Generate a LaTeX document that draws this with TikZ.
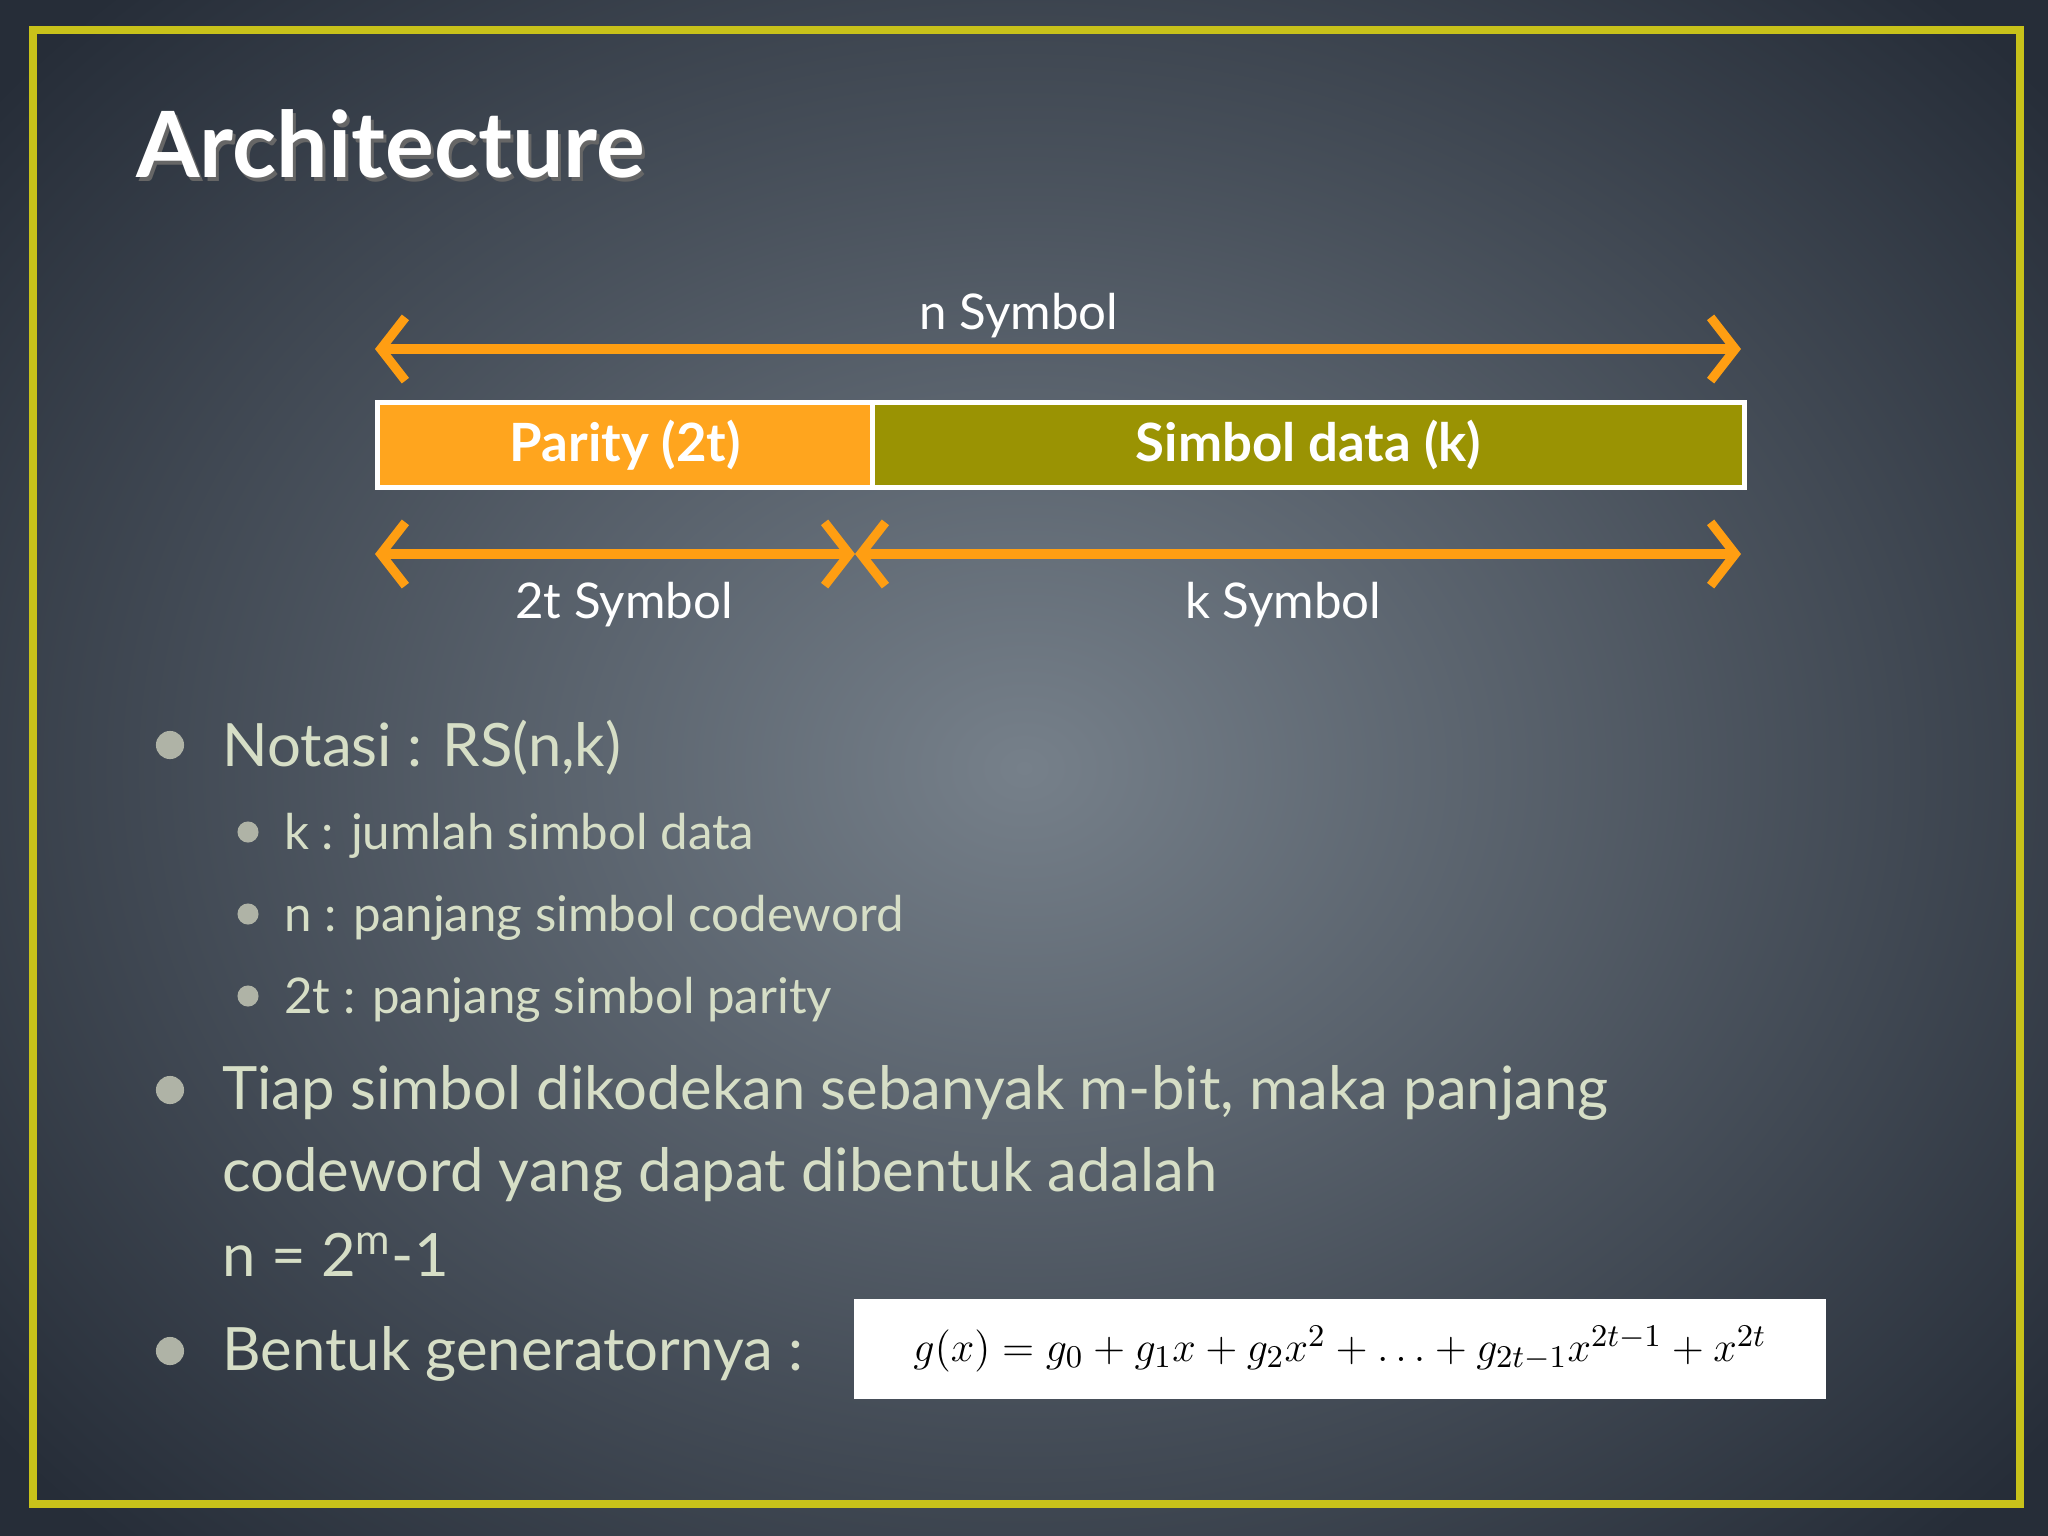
\documentclass[tikz,border=0pt]{standalone}
\usepackage{fontspec}
\setmainfont{Lato}
\usetikzlibrary{arrows.meta,shadings}
\definecolor{txt}{HTML}{D6DEC6}
\definecolor{org}{HTML}{FF9E12}
\definecolor{par}{HTML}{FFA51E}
\definecolor{sim}{HTML}{9A9303}
\definecolor{frame}{HTML}{C8C21A}
\tikzset{
  dim/.style={draw=org,line width=2.6pt,{Straight Barb[length=7pt,width=18pt,line width=2.6pt]}-{Straight Barb[length=7pt,width=18pt,line width=2.6pt]}},
  lbl/.style={text=white,font=\fontsize{14}{17}\selectfont},
  b1/.style={text=txt,anchor=west,font=\fontsize{17}{20}\selectfont},
  b2/.style={text=txt,anchor=west,font=\fontsize{14}{17}\selectfont},
  dot/.style={circle,fill=txt!55!gray,inner sep=0pt,minimum size=#1}
}
\begin{document}
\begin{tikzpicture}[x=0.01cm,y=-0.01cm]
\useasboundingbox (0,0) rectangle (2048,1536);
\shade[inner color={rgb,255:red,118;green,128;blue,138},outer color={rgb,255:red,38;green,45;blue,56}] (-300,-300) rectangle (2348,1836);
\draw[frame,line width=2.2pt] (33,30) rectangle (2020,1504);
\node[text=black!60,anchor=west,font=\fontsize{26}{30}\selectfont\bfseries] at (127,148) {Architecture};
\node[text=white,anchor=west,font=\fontsize{26}{30}\selectfont\bfseries] (title) at (124,144) {Architecture};
\coordinate (nL) at (375,349); \coordinate (nR) at (1741,349);
\draw[dim] (nL) -- (nR);
\node[lbl] (nlab) at (1019,316) {n Symbol};
\node[draw=white,line width=1.5pt,fill=par,inner sep=0pt,anchor=north west,minimum width=4.95cm,minimum height=0.85cm,text=white,font=\fontsize{15}{18}\selectfont\bfseries] (parity) at (375,400) {Parity (2t)};
\node[draw=white,line width=1.5pt,fill=sim,inner sep=0pt,anchor=north west,minimum width=8.71cm,minimum height=0.85cm,text=white,font=\fontsize{15}{18}\selectfont\bfseries] (data) at (870,400) {Simbol data (k)};
\coordinate (tL) at (375,554); \coordinate (tM) at (855,554); \coordinate (kR) at (1741,554);
\draw[dim] (tL) -- (tM);
\draw[dim] (tM) -- (kR);
\node[lbl] (tlab) at (624,605) {2t Symbol};
\node[lbl] (klab) at (1283,605) {k Symbol};
\node[dot=8pt] (d1) at (170,745) {};
\node[b1] (t1) at (210,748) {Notasi : RS(n,k)};
\node[dot=6pt] (d2) at (248,832) {};
\node[b2] (t2) at (272,836) {k : jumlah simbol data};
\node[dot=6pt] (d3) at (248,914) {};
\node[b2] (t3) at (272,918) {n : panjang simbol codeword};
\node[dot=6pt] (d4) at (248,996) {};
\node[b2] (t4) at (272,1000) {2t : panjang simbol parity};
\node[dot=8pt] (d5) at (170,1090) {};
\node[b1] (t5) at (210,1093) {Tiap simbol dikodekan sebanyak m-bit, maka panjang};
\node[b1] (t6) at (210,1175) {codeword yang dapat dibentuk adalah};
\node[b1] (t7) at (210,1255) {n = 2\textsuperscript{m}-1};
\node[dot=8pt] (d6) at (170,1351) {};
\node[b1] (t8) at (210,1354) {Bentuk generatornya :};
\node[fill=white,inner sep=0pt,anchor=north west,minimum width=9.72cm,minimum height=1.0cm,font=\fontsize{12.5}{15}\selectfont] (gx) at (853,1298)
 {$g(x)=g_0+g_1x+g_2x^2+\ldots+g_{2t-1}x^{2t-1}+x^{2t}$};
\end{tikzpicture}
\end{document}
